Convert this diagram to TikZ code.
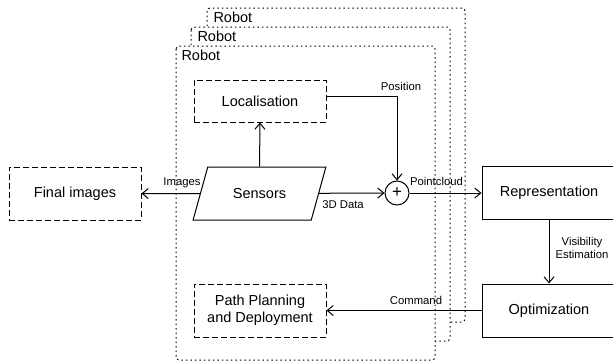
\documentclass[tikz,border=0pt]{standalone}
\usepackage{fontspec}
\setmainfont{Liberation Sans}
\usetikzlibrary{arrows.meta, shapes.geometric}

\begin{document}
\begin{tikzpicture}[x=1pt, y=-1pt, line width=1pt,
    >={Straight Barb[length=6pt,width=10pt]},
    every node/.style={font=\fontsize{14.5}{17}\selectfont},
    lbl/.style={font=\fontsize{11.3}{13}\selectfont, inner sep=1pt},
    dbox/.style={draw, dash pattern=on 6pt off 3pt, minimum width=132pt, minimum height=53pt, align=center},
    sbox/.style={draw, minimum width=134pt, minimum height=53pt},
    robot/.style={draw, dash pattern=on 1.5pt off 3pt, rounded corners=3pt, fill=white}]
                    \useasboundingbox (0,0) rectangle (613,362);

                    \draw[robot] (207,8) rectangle (465,322);
                    \node[anchor=west, inner sep=0pt] (r3) at (213,17) {Robot};
                    \draw[robot] (191,27) rectangle (450,341);
                    \node[anchor=west, inner sep=0pt] (r2) at (197,36) {Robot};
                    \draw[robot] (176,46) rectangle (435,360);
                    \node[anchor=west, inner sep=0pt] (r1) at (181,55) {Robot};

                    \node[dbox] (fin) at (75,193.5) {Final images};
                    \node[dbox, minimum height=42pt] (loc) at (260,101) {Localisation};
                    \node[draw, trapezium, trapezium left angle=63.4, trapezium right angle=116.6,
                          trapezium stretches=true, minimum width=133pt, minimum height=53pt] (sens) at (259.5,193.5) {Sensors};
                    \node[draw, circle, minimum size=24pt, inner sep=0pt, font=\fontsize{17}{17}\selectfont] (plus) at (397,193) {+};
                    \node[dbox] (plan) at (260,310.5) {Path Planning\\and Deployment};
                    \node[sbox] (rep) at (549,193) {Representation};
                    \node[sbox] (opt) at (549,310.5) {Optimization};

                    \draw[->] (sens) -- (fin);
                    \draw[->] (sens.north) -- (loc.south);
                    \draw[->] (sens) -- (plus);
                    \draw[->] ([yshift=5pt]loc.east) -| (plus);
                    \draw[->] (plus) -- (rep);
                    \draw[->] (rep) -- (opt);
                    \draw[->] (opt) -- (plan);

                    \node[lbl] (l1) at (182,183) {Images};
                    \node[lbl] (l2) at (343,205) {3D Data};
                    \node[lbl] (l3) at (401,86) {Position};
                    \node[lbl] (l4) at (436.5,181) {Pointcloud};
                    \node[lbl, align=center] (l5) at (582,247.5) {Visibility\\Estimation};
                    \node[lbl] (l6) at (416,300.5) {Command};
\end{tikzpicture}
\end{document}
